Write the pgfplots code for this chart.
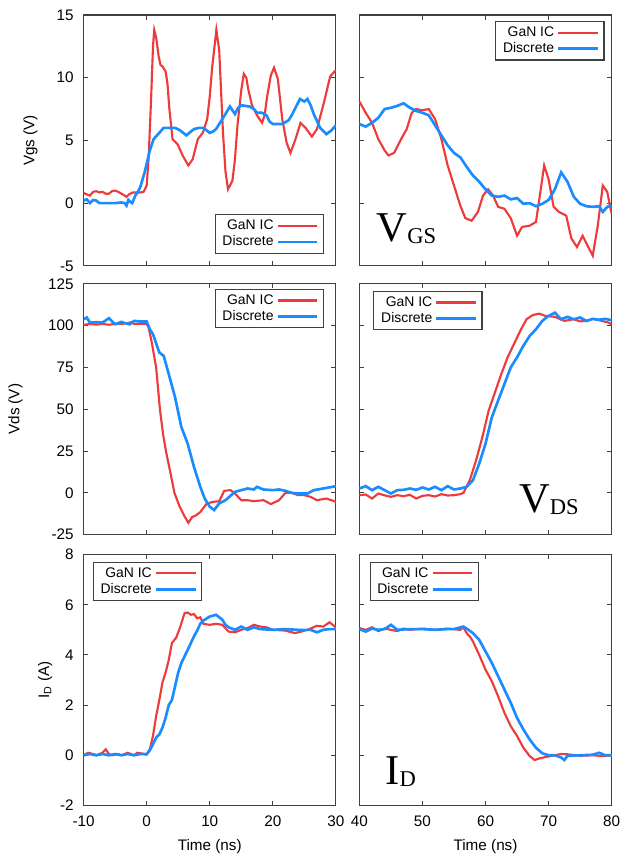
\documentclass[border=0pt]{standalone}
\usepackage{pgfplots}
\pgfplotsset{compat=1.18}
\usepackage{fontspec}
\setmainfont{Liberation Sans}
\newfontfamily\serifbig{Liberation Serif}

\definecolor{ganred}{RGB}{238,58,58}
\definecolor{discblue}{RGB}{26,140,255}

\pgfplotsset{
  panel/.style={
    scale only axis, width=190pt, height=189pt,
    tick align=inside, major tick length=3.5pt,
    axis line style={black!75, line width=0.9pt},
    every tick/.style={black!75, line width=0.7pt},
    tick label style={font=\fontsize{11.5}{12}\selectfont},
    label style={font=\fontsize{11.5}{12}\selectfont},
    /pgf/number format/assume math mode=true,
    xticklabel shift=4pt, yticklabel shift=4pt,
    ylabel shift=4pt, xlabel shift=3pt,
    legend cell align=right,
    legend plot pos=right,
    legend image code/.code={\draw[##1] (0pt,0pt) -- (30pt,0pt);},
    legend style={draw=black!75, line width=0.9pt, font=\fontsize{10.5}{11}\selectfont,
      inner xsep=3.5pt, inner ysep=2pt, row sep=-1pt},
  },
  leftcol/.style={xmin=-10, xmax=30, xtick={-10,0,10,20,30}},
  rightcol/.style={xmin=40, xmax=80, xtick={40,50,60,70,80}, yticklabels={}},
  gan/.style={ganred, line width=1.6pt},
  disc/.style={discblue, line width=2pt},
}

\begin{document}
\begin{tikzpicture}
\path (0pt,0pt) rectangle (477.75pt,-643.5pt);

% ---- row 1: Vgs
\begin{axis}[panel, leftcol, at={(63pt,-11.25pt)}, anchor=north west,
  ymin=-5, ymax=15, ytick={-5,0,5,10,15}, xticklabels={}, ylabel={Vgs (V)}, ylabel shift=7.5pt,
  legend style={at={(0.953,0.048)}, anchor=south east}]
\addplot[gan] coordinates {(-10,0.8)(-9.5,0.7)(-9,0.6)(-8.5,0.9)(-8,0.95)(-7.5,0.85)(-7,0.9)(-6.5,0.75)(-6,0.75)(-5.5,0.95)(-5,1.0)(-4.5,0.9)(-4,0.75)(-3.5,0.6)(-3.2,0.5)(-2.8,0.7)(-2.2,0.85)(-1.6,0.85)(-1,0.85)(-0.5,0.9)(0,1.4)(0.3,3.5)(0.7,8.3)(1.0,12.5)(1.2,13.8)(1.5,13.2)(1.9,11.7)(2.2,11.0)(2.5,10.9)(3.0,10.5)(3.3,9.5)(3.6,7.5)(4.1,5.1)(4.9,4.7)(5.7,3.8)(6.6,3.0)(7.3,3.5)(8.1,5.1)(8.9,5.6)(9.6,6.7)(10.0,8.5)(10.4,10.9)(11.05,13.8)(11.5,12.2)(12.1,5.6)(12.5,2.5)(12.9,1.1)(13.6,1.8)(14.0,3.5)(14.4,6.2)(15.0,9.0)(15.4,10.3)(15.8,10.0)(16.1,9.1)(16.7,7.8)(17.5,7.0)(18.3,6.4)(18.7,7.0)(19.1,8.5)(19.7,10.2)(20.2,10.8)(20.8,9.9)(21.5,6.7)(22.2,4.8)(22.8,4.0)(23.6,5.1)(24.4,6.4)(25.2,6.0)(26.2,5.3)(27,5.9)(28.1,8.0)(29.1,10.1)(30,10.6)};
\addlegendentry{GaN IC}
\addplot[disc] coordinates {(-10,0.2)(-9.5,0.3)(-9,0.0)(-8.5,0.25)(-8,0.2)(-7.5,0.0)(-7,0.0)(-6,0.0)(-5,0.0)(-4,0.05)(-3.5,0.0)(-3.2,-0.2)(-2.9,0.25)(-2.6,0.1)(-2.3,0.0)(-1.8,0.6)(-1.4,0.9)(-1,1.3)(-0.3,2.5)(0.5,4.2)(1.1,5.1)(2,5.6)(2.7,6.0)(3.5,6.0)(4.5,6.0)(5.3,5.8)(6.3,5.4)(7,5.7)(7.5,5.9)(8.3,6.0)(9,6.0)(9.5,5.8)(10,5.6)(10.5,5.7)(11,5.9)(12,6.7)(12.6,7.2)(13.2,7.7)(14,7.1)(14.5,7.6)(15,7.8)(16.3,7.7)(17,7.5)(17.5,7.2)(18.3,7.2)(19,7.0)(19.5,6.5)(20,6.3)(21,6.3)(21.5,6.3)(22.5,6.6)(23,7.0)(23.5,7.5)(24.3,8.3)(25,8.1)(25.5,8.3)(26,7.8)(26.5,7.1)(27.5,6.0)(28.5,5.5)(29.3,5.8)(30,6.2)};
\addlegendentry{Discrete}
\end{axis}

\begin{axis}[panel, rightcol, at={(270.75pt,-11.25pt)}, anchor=north west,
  ymin=-5, ymax=15, ytick={-5,0,5,10,15}, xticklabels={},
  legend style={at={(0.972,0.976)}, anchor=north east}]
\addplot[gan] coordinates {(40,8.1)(41,7.2)(42,6.4)(43,5.1)(44,4.2)(44.6,3.8)(45.5,4.0)(46.5,5.0)(47.5,5.9)(48.3,7.2)(49,7.5)(50,7.4)(51,7.5)(52,6.7)(53,5.1)(54,3.0)(55,1.4)(56,-0.2)(56.8,-1.2)(57.8,-1.4)(58.8,-0.7)(59.6,0.6)(60.4,1.1)(61.2,0.6)(62,-0.3)(63,-0.45)(64,-1.2)(65,-2.6)(65.8,-1.9)(67,-1.8)(68,-1.5)(68.7,0.9)(69.3,3.0)(70,1.9)(70.8,-0.3)(71.6,-0.7)(72.8,-1.0)(73.6,-2.8)(74.5,-3.5)(75.4,-2.6)(76.3,-3.5)(77,-4.2)(77.8,-1.8)(78.6,1.4)(79.3,0.9)(80,-0.85)};
\addlegendentry{GaN IC}
\addplot[disc] coordinates {(40,6.3)(41,6.1)(42,6.4)(43,6.8)(44,7.5)(45,7.6)(46,7.75)(47,7.96)(48,7.6)(49,7.35)(50,7.2)(51,7.0)(52,6.2)(53,5.4)(54,4.6)(55,4.0)(56,3.65)(57,2.9)(58,2.2)(59,1.7)(60,1.1)(61,0.6)(62,0.5)(63,0.6)(64,0.3)(65,0.4)(66,-0.05)(67,0)(68,-0.25)(69,-0.05)(70,0.25)(71,1.1)(72,2.45)(73,1.7)(74,0.5)(75,-0.05)(76,-0.25)(77,-0.3)(78,-0.25)(78.6,-0.7)(79.3,-0.3)(80,-0.2)};
\addlegendentry{Discrete}
\node[anchor=base west, inner sep=0pt] at (axis cs:42.7,-3.1)
  {\serifbig\fontsize{32}{32}\selectfont V\raisebox{-1.3pt}{\fontsize{17}{17}\selectfont GS}};
\end{axis}

% ---- row 2: Vds
\begin{axis}[panel, leftcol, at={(63pt,-213.75pt)}, anchor=north west,
  ymin=-25, ymax=125, ytick={-25,0,25,50,75,100,125}, xticklabels={}, ylabel={Vds (V)}, ylabel shift=12.5pt,
  legend style={at={(0.953,0.98)}, anchor=north east}]
\addplot[gan] coordinates {(-10,100.4)(-9,101)(-8,100.6)(-7,101)(-6,100.5)(-5,101)(-4,101)(-3,101.5)(-2.5,102)(-2,101)(-1,101)(0,101)(0.3,99)(0.8,90)(1.5,75)(2.1,50)(2.6,35)(3.05,25)(3.6,15)(4.4,0)(5.2,-8)(6,-14)(6.6,-17.9)(7.2,-14.5)(7.8,-13.5)(8.5,-11.5)(9.5,-6.5)(10.5,-5.4)(11.5,-5)(12.3,1.2)(13.3,1.6)(14,-0.4)(15,-4.4)(16,-4.4)(17,-5)(18.5,-4.4)(19.7,-6.7)(21,-4.4)(22,0)(23,0)(24,-1.4)(25,-1.4)(26,-2.4)(27,-4.4)(28.5,-3.4)(29.3,-4.4)(30,-5.4)};
\addlegendentry{GaN IC}
\addplot[disc] coordinates {(-10,103.8)(-9.5,104.8)(-9,101.8)(-8,102)(-7,101.8)(-6,104.4)(-5,100.8)(-4,102.2)(-3.5,101.5)(-2.7,100.8)(-2,102.8)(-1,102.4)(0,102.4)(0.5,97.8)(1,94.8)(2,83.9)(2.7,81.9)(3.5,71)(4.5,57.1)(5.5,39.3)(6.5,29.4)(7.5,15.5)(8.5,3.6)(9.2,-3.4)(10,-8.3)(10.7,-10.3)(11.5,-6.3)(12.5,-4.4)(14,0.6)(15,1.6)(16,2.6)(17,2.0)(17.5,3.6)(18.5,2)(20,1.6)(21,2.0)(22,1.2)(23,0)(24,-0.4)(25.5,-0.4)(26.5,1.6)(28,2.6)(29.5,3.6)(30,4)};
\addlegendentry{Discrete}
\end{axis}

\begin{axis}[panel, rightcol, at={(270.75pt,-213.75pt)}, anchor=north west,
  ymin=-25, ymax=125, ytick={-25,0,25,50,75,100,125}, xticklabels={},
  legend style={at={(0.055,0.972)}, anchor=north west}]
\addplot[gan] coordinates {(40,-1.4)(41,-1)(42,-3.4)(43,-0.4)(44,-1.5)(45,-2.4)(46,-1.4)(47,-2)(48,-1.2)(49,-3.4)(50,-1.8)(51,-1.4)(52,-2.2)(53,-0.8)(54,-1.6)(55,-1.4)(56,-0.8)(56.5,0)(57.5,7.5)(58.5,19.4)(59.5,33.3)(60.5,49.2)(61.5,60.1)(62.5,71)(63.5,81)(64.5,88.9)(65.5,96.8)(66.5,103.8)(67.5,106.3)(68.5,107.1)(69.5,105.8)(71,105.2)(72.5,102.8)(74,103.8)(75,102.5)(76,102.8)(77,104)(78,103.2)(79.5,101.8)(80,100.8)};
\addlegendentry{GaN IC}
\addplot[disc] coordinates {(40,2.6)(41,4)(42,1.6)(43,3.6)(44,1.6)(45,-0.4)(46,1.6)(47,1.8)(48,2.6)(49,1.8)(50,3.2)(51,2)(52,3.6)(53,1.6)(54,4)(55,2)(56,2.6)(57,3.6)(58,7.5)(59,17.5)(60,29.4)(61,45.2)(62,55.2)(63,65.1)(64,75)(65,81)(66,87.9)(67,93.8)(68,97.8)(69,102.8)(70,105.8)(71,107.7)(72,103.8)(73,105.2)(74,103.8)(75,104.8)(76,102.8)(77,104)(78,103.5)(79,104)(80,103.2)};
\addlegendentry{Discrete}
\node[anchor=base west, inner sep=0pt] at (axis cs:65.3,-11.9)
  {\serifbig\fontsize{32}{32}\selectfont V\raisebox{-1.3pt}{\fontsize{17}{17}\selectfont DS}};
\end{axis}

% ---- row 3: ID
\begin{axis}[panel, leftcol, at={(63pt,-417.75pt)}, anchor=north west,
  ymin=-2, ymax=8, ytick={-2,0,2,4,6,8}, ylabel={I\textsubscript{D} (A)}, ylabel shift=-1pt, xlabel={Time (ns)},
  legend style={at={(0.036,0.972)}, anchor=north west}]
\addplot[gan] coordinates {(-10,0)(-9.3,0.1)(-8.5,0.05)(-8,0)(-7,0.1)(-6.5,0.24)(-6,0.05)(-5.5,0)(-4.5,0.05)(-4,0)(-3,0.1)(-2,0)(-1.5,0.1)(0,0.04)(0.5,0.24)(1,0.77)(1.5,1.56)(2,2.2)(2.5,2.9)(3,3.3)(3.5,3.8)(4,4.47)(4.7,4.7)(5.3,5.1)(6,5.66)(6.5,5.69)(7,5.6)(7.5,5.63)(8,5.46)(8.5,5.5)(9,5.24)(10,5.2)(11,5.24)(12,5.2)(13,4.93)(14,4.9)(15,5)(16,5.07)(17,5.2)(18,5.13)(19,5.1)(20,5)(22,4.97)(23.5,4.87)(24.5,4.93)(25.5,5)(27,5.16)(28,5.13)(29,5.3)(30,5.1)};
\addlegendentry{GaN IC}
\addplot[disc] coordinates {(-10,0)(-9,0.05)(-8,0)(-7,0.05)(-6,0)(-5,0.05)(-4,0)(-3,0.05)(-2,0)(-1,0.05)(0,0.04)(0.5,0.2)(1,0.44)(1.5,0.7)(2,0.83)(2.5,1.1)(3,1.5)(3.5,2.0)(4,2.2)(4.5,2.75)(5,3.3)(5.5,3.68)(6,3.94)(6.5,4.2)(7,4.47)(7.5,4.74)(8,4.97)(8.5,5.24)(9,5.37)(10,5.53)(11,5.6)(11.5,5.5)(12,5.4)(12.5,5.2)(13,5.1)(14,5.0)(15,5.13)(16,5)(17,5.1)(18,5.03)(20,5)(22,5.03)(24,5)(26,5)(27,4.9)(28,5)(29,5.03)(30,5.03)};
\addlegendentry{Discrete}
\end{axis}

\begin{axis}[panel, rightcol, at={(270.75pt,-417.75pt)}, anchor=north west,
  ymin=-2, ymax=8, ytick={-2,0,2,4,6,8}, xlabel={Time (ns)},
  legend style={at={(0.04,0.972)}, anchor=north west}]
\addplot[gan] coordinates {(40,5.07)(41,5.0)(42,5.1)(43,4.95)(44,5.05)(45,5.0)(46,4.95)(47,5.05)(48,5.0)(50,5.05)(52,5.0)(54,5.05)(56,5.0)(56.5,5.1)(57,4.87)(57.5,4.74)(58,4.54)(59,4.0)(60,3.41)(61,2.95)(62,2.35)(63,1.69)(64,1.16)(65,0.77)(66,0.3)(67,-0.03)(67.8,-0.19)(68.5,-0.13)(69.5,-0.07)(71,0)(72,0.05)(73,0.04)(75,-0.02)(77,0)(78.5,-0.03)(80,0)};
\addlegendentry{GaN IC}
\addplot[disc] coordinates {(40,5.03)(41,4.93)(42,5.05)(43,5.0)(44,5.03)(45,5.2)(46,5.0)(48,5.03)(50,5.03)(52,5.0)(54,5.03)(55,5.03)(56.5,5.13)(57,5.05)(58,4.87)(59,4.6)(60,4.14)(61,3.68)(62,3.15)(63,2.62)(64,2.09)(65,1.49)(66,1.03)(67,0.63)(68,0.3)(69,0.08)(70,0)(71,0)(72,-0.09)(72.5,-0.19)(73,-0.02)(75,0)(77,0.02)(78,0.1)(79,0)(80,0)};
\addlegendentry{Discrete}
\node[anchor=base west, inner sep=0pt] at (axis cs:44.1,-1.17)
  {\serifbig\fontsize{32}{32}\selectfont I\raisebox{-1.3pt}{\fontsize{17}{17}\selectfont D}};
\end{axis}
\end{tikzpicture}
\end{document}
